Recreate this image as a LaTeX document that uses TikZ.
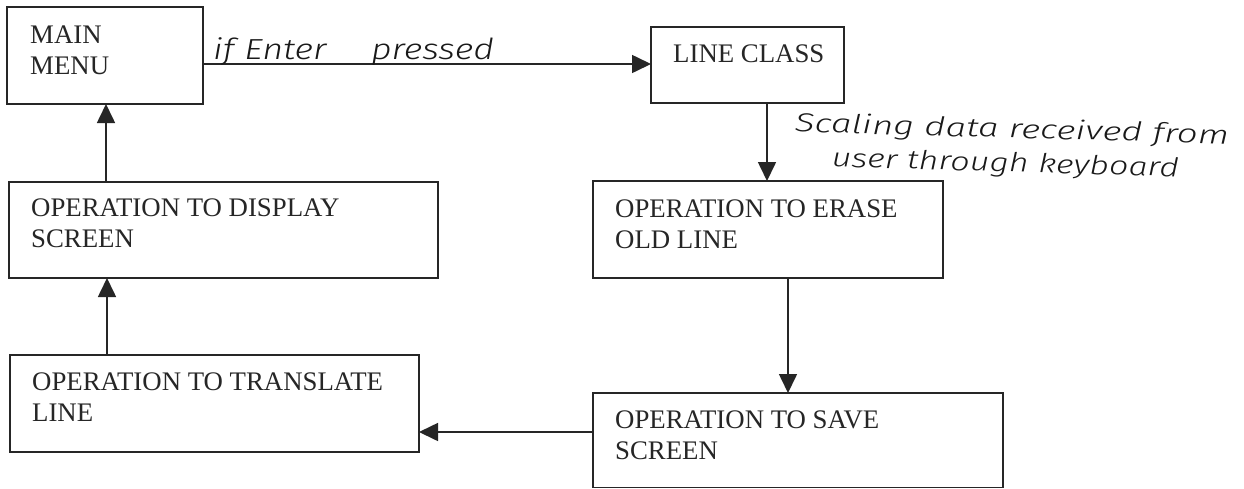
\documentclass[tikz,border=0pt]{standalone}
\usepackage{fontspec}
\setmainfont{Liberation Serif}
\newfontfamily\hand{Fira Sans Light Italic}
\usetikzlibrary{arrows.meta,calc}
\begin{document}
\begin{tikzpicture}[x=1pt,y=-1pt,
  box/.style={draw=black!85, line width=1.6pt, inner sep=0pt, outer sep=0pt, anchor=north west},
  lbl/.style={font=\fontsize{26.8}{31.5}\selectfont, text=black!85, align=left, inner sep=0pt, anchor=north west},
  hw/.style={font=\hand\fontsize{29}{33}\selectfont, text=black!90, inner sep=0pt, anchor=base west},
  arr/.style={draw=black!85, line width=1.6pt, -{Triangle[length=19pt,width=18pt]}}]
\useasboundingbox (0,0) rectangle (1244,488);
\fill[white] (0,0) rectangle (1244,488);
% boxes
\node[box, minimum width=196pt, minimum height=97pt] (mm) at (7,7) {};
\node[box, minimum width=193pt, minimum height=76pt] (lc) at (651,27) {};
\node[box, minimum width=429pt, minimum height=96pt] (ds) at (9,182) {};
\node[box, minimum width=350pt, minimum height=97pt] (er) at (593,181) {};
\node[box, minimum width=409pt, minimum height=97pt] (tr) at (10,355) {};
\node[box, minimum width=410pt, minimum height=94.5pt] (sv) at (593,393) {};
% labels
\node[lbl] (mmt) at (30,25.3) {MAIN\\MENU};
\node[lbl] (lct) at (673,44.3) {LINE CLASS};
\node[lbl] (dst) at (31,198.3) {OPERATION TO DISPLAY\\SCREEN};
\node[lbl] (ert) at (615,199.3) {OPERATION TO ERASE\\OLD LINE};
\node[lbl] (trt) at (32,372.3) {OPERATION TO TRANSLATE\\LINE};
\node[lbl] (svt) at (615,410.3) {OPERATION TO SAVE\\SCREEN};
% connector end points
\coordinate (a1) at (mm.east |- 0,64);
\coordinate (a2) at (lc.west |- 0,64);
\coordinate (b1) at (lc.south -| 767,0);
\coordinate (b2) at (er.north -| 767,0);
\coordinate (c1) at (er.south -| 788,0);
\coordinate (c2) at (sv.north -| 788,0);
\coordinate (d1) at (sv.west |- 0,432);
\coordinate (d2) at (tr.east |- 0,432);
\coordinate (e1) at (tr.north -| 107,0);
\coordinate (e2) at (ds.south -| 107,0);
\coordinate (f1) at (ds.north -| 106,0);
\coordinate (f2) at (mm.south -| 106,0);
% connectors
\draw[arr] (a1) -- (a2);
\draw[arr] (b1) -- (b2);
\draw[arr] (c1) -- (c2);
\draw[arr] (d1) -- (d2);
\draw[arr] (e1) -- (e2);
\draw[arr] (f1) -- (f2);
% handwritten notes
\node[hw] (h1) at (213,59) {\scalebox{1.24}[1]{if Enter\hspace{36pt}pressed}};
\node[hw, font=\hand\fontsize{29}{34}\selectfont, align=left, anchor=north west, rotate=-1.6] (h2) at (795,112)
  {\scalebox{1.27}[0.9]{Scaling data received from}\\\hspace{38pt}\scalebox{1.18}[0.9]{user through keyboard}};
\end{tikzpicture}
\end{document}
